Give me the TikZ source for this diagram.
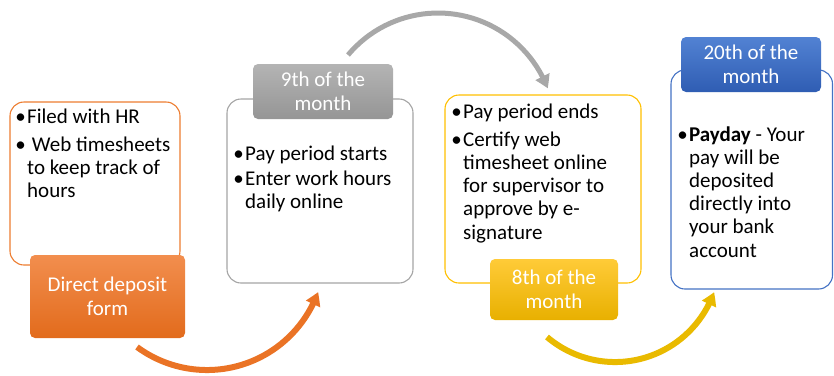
\documentclass[tikz,border=0pt]{standalone}
\usepackage{fontspec}
\setmainfont{Carlito}
\usetikzlibrary{arrows.meta,bending}
\definecolor{orLine}{HTML}{ED7D31}
\definecolor{orTop}{HTML}{F28E4E}
\definecolor{orBot}{HTML}{E26B1C}
\definecolor{orArr}{HTML}{EA7325}
\definecolor{grLine}{HTML}{A5A5A5}
\definecolor{grTop}{HTML}{B4B4B4}
\definecolor{grBot}{HTML}{959595}
\definecolor{grArr}{HTML}{A8A8A8}
\definecolor{yeLine}{HTML}{FFC000}
\definecolor{yeTop}{HTML}{FFCB38}
\definecolor{yeBot}{HTML}{E8B000}
\definecolor{yeArr}{HTML}{E9BA00}
\definecolor{blLine}{HTML}{4472C4}
\definecolor{blTop}{HTML}{5282D3}
\definecolor{blBot}{HTML}{2F5DB3}
\newcommand{\bl}{\makebox[13pt][c]{•}}
\newcommand{\ind}{\hspace*{13pt}}
\begin{document}
\begin{tikzpicture}[x=1pt,y=-1pt,
  outl/.style={draw=#1, fill=white, rounded corners=14pt, line width=1.1pt, inner sep=0pt, outer sep=0pt},
  lab/.style={rounded corners=5pt, top color=#1Top, bottom color=#1Bot, text=white, align=center,
     inner sep=0pt, outer sep=0pt, font=\fontsize{21}{23.5}\selectfont},
  txt/.style={anchor=base west, inner sep=0pt, font=\fontsize{21}{23.2}\selectfont},
  arr/.style={draw=#1, line width=6pt, -{Triangle[length=13pt,width=15pt,bend]}}]
\useasboundingbox (0,0) rectangle (834,375);

% outline boxes
\node[outl=orLine, minimum width=170pt, minimum height=163pt] (b1) at (95,183.5) {};
\node[outl=grLine, minimum width=186pt, minimum height=184pt] (b2) at (320,191) {};
\node[outl=yeLine, minimum width=196pt, minimum height=188pt] (b3) at (543,189) {};
\node[outl=blLine, minimum width=161.5pt, minimum height=219pt] (b4) at (751.75,179.5) {};

% labels
\node[lab=or, minimum width=155pt, minimum height=83pt] (l1) at (107.5,296.5) {Direct deposit\\form};
\node[lab=gr, minimum width=140pt, minimum height=55pt] (l2) at (323,91.5) {9th of the\\month};
\node[lab=ye, minimum width=128pt, minimum height=61pt] (l3) at (554,289.5) {8th of the\\month};
\node[lab=bl, minimum width=140pt, minimum height=55pt] (l4) at (751,64.5) {20th of the\\month};

% texts
\node[txt] (t1) at (14,123) {\begin{tabular}[t]{@{}l@{}}\bl Filed with HR\\[5pt]
  \bl\ Web timesheets\\ \ind to keep track of\\ \ind hours\end{tabular}};
\node[txt] (t2) at (232,160) {\begin{tabular}[t]{@{}l@{}}\bl Pay period starts\\[2pt]
  \bl Enter work hours\\ \ind daily online\end{tabular}};
\node[txt] (t3) at (450,118) {\begin{tabular}[t]{@{}l@{}}\bl Pay period ends\\[5pt]
  \bl Certify web\\ \ind timesheet online\\ \ind for supervisor to\\ \ind approve by e-\\ \ind signature\end{tabular}};
\node[txt] (t4) at (676,141) {\begin{tabular}[t]{@{}l@{}}\bl \textbf{Payday} - Your\\
  \ind pay will be\\ \ind deposited\\ \ind directly into\\ \ind your bank\\ \ind account\end{tabular}};

% arrows
\coordinate (a1) at (137,347);
\coordinate (a2) at (348,55);
\coordinate (a3) at (547,337);
\draw[arr=orArr] (a1) arc[start angle=126.4, end angle=19.8, radius=118];
\draw[arr=grArr, line width=5pt] (a2) arc[start angle=220, end angle=339, radius=117.5];
\draw[arr=yeArr] (a3) arc[start angle=130.4, end angle=19.5, radius=105];
\end{tikzpicture}
\end{document}
